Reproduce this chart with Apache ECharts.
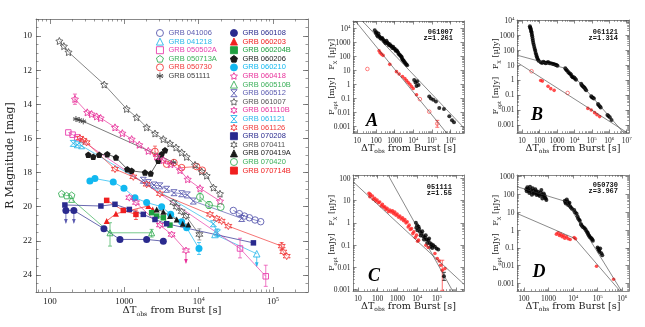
<!DOCTYPE html>
<html>
<head>
<meta charset="utf-8">
<script src="https://cdn.jsdelivr.net/npm/echarts@6.0.0/dist/echarts.min.js"></script>
<style>
html,body{margin:0;padding:0;background:#ffffff;}
#chart{width:645px;height:327px;}
</style>
</head>
<body>
<div id="chart"></div>
<script>
// ================= DATA: main panel  [time since burst (s), R magnitude] =================
const GRB041006  = [[29300,20.22],[35300,20.41],[41300,20.55],[48200,20.65],[57400,20.78],[68400,20.88]];
const GRB041218  = [[16600,21.63],[60500,22.76]];
const GRB050502A = [[177,15.65],[202,15.78],[233,15.94],[36060,22.45],[80000,24.08]];
const GRB050713A = [[144,19.24],[168,19.35],[196,19.33]];
const GRB050730  = [[2590,16.76],[3715,17.51],[4667,17.41],[5915,17.71],[9420,17.65],[11220,17.86]];
const GRB051111  = [[224,14.86],[248,14.92],[281,15.0],[3020,17.02],[4570,17.41]];
const GRB060108  = [[164,20.22],[210,20.22],[533,21.29],[875,21.92],[2000,21.92],[3352,22.02]];
const GRB060203  = [[580,20.84],[773,20.41],[2105,19.96],[2410,20.16]];
const GRB060204B = [[2335,20.35],[2728,20.55],[3352,20.65],[4120,21.08]];
const GRB060206  = [[328,16.96],[383,17.08],[461,16.96],[591,16.92],[773,17.12],[1099,17.80],[1257,17.90],[1901,18.00],[2265,18.06],[2871,17.31],[3184,16.92],[3532,16.69]];
const GRB060210  = [[345,18.49],[403,18.35],[711,18.55],[991,18.92],[1393,19.47],[2000,19.76],[3184,20.00],[4210,20.45],[5915,20.88],[6900,21.24],[10120,22.45]];
const GRB060418  = [[217,13.69],[318,14.47],[364,14.57],[425,14.71],[481,14.80],[750,15.35],[942,15.69],[1257,16.04],[1593,16.37],[2105,16.73],[2728,17.06],[3352,17.27],[4210,17.51],[5623,17.86],[7130,18.39],[10450,18.92],[19400,19.67]];
const GRB060510B = [[196,19.57],[643,21.53],[2335,21.53]];
const GRB060512  = [[1803,18.45],[2105,18.59],[2512,18.73],[3020,18.78],[3715,18.98],[4667,19.18],[5915,19.24],[7050,19.31],[8490,19.67],[38000,20.69]];
const GRB061007  = [[134,10.29],[154,10.59],[178,10.94],[538,12.84],[1076,14.27],[1466,14.76],[2000,15.35],[2590,15.71],[3350,16.04],[4120,16.29],[4970,16.53],[5920,16.82],[6900,17.08],[8950,17.55],[11000,17.94],[12850,18.18],[15800,18.88],[19400,19.24]];
const GRB061110B = [[1170,19.47],[1436,19.76],[3020,21.08],[4335,21.63],[6760,22.57]];
const GRB061121  = [[206,16.29],[233,16.37],[267,16.43],[15800,21.0],[17900,21.53]];
const GRB061126  = [[254,15.98],[281,16.10],[311,16.24],[750,17.80],[1324,18.25],[2000,18.69],[3020,19.24],[14220,20.45],[17500,20.69],[20400,20.84],[25100,21.14],[131000,22.31],[138000,22.65],[153000,22.9]];
const GRB070208  = [[159,19.90],[485,19.96],[750,19.86],[1170,20.16],[1803,20.45],[2590,20.75],[3715,21.0],[54600,22.12]];
const GRB070411  = [[4570,19.76],[5070,20.02],[5915,20.29],[6760,20.55],[10230,21.63]];
const GRB070419A = [[2728,20.16],[3352,20.29],[4120,20.55],[5070,20.75],[6110,21.0],[7280,21.04]];
const GRB070420  = [[10450,19.43],[13800,19.90],[19800,20.02]];
const GRB070714B = [[580,19.63],[970,20.22],[1436,20.45]];

// error bars [t, mag_low, mag_high] and upper limits [t, mag]
const ERR060418  = [[217,13.4,14.0]];
const ERR050730  = [[2590,16.45,17.05]];
const ERR070420  = [[10450,19.2,19.7],[13800,19.7,20.1]];
const ERR060510B = [[643,20.94,22.31],[2335,21.33,21.78]];
const ERR060210  = [[10120,22.1,22.8]];
const ERR050502A = [[36060,21.85,23.0],[80000,23.43,24.67]];
const ERR070411  = [[10230,21.3,21.95]];
const ERR070714B = [[1436,20.2,20.75]];
const ERR061126  = [[131000,22.1,22.5]];
const ERR061121  = [[17900,21.3,21.75]];
const UL060108   = [[164,20.22],[210,20.22]];
const UL061110B  = [[6760,22.57]];
const UL041218   = [[60500,22.76]];

// ================= DATA: panel A (061007)  [t (s), flux] =================
const A_XRAY = [[85.5,7620],[96.8,4930],[105,5500],[114,3370],[125,2700],[134.5,4420],[145,3000],[158,2560],[175,2000],[195,1955],[215,2100],[240,1660],[265,1300],[295,1133],[325,900],[362,1334],[400,1000],[446,863],[495,650],[547,774],[600,600],[673,559],[740,420],[828,501],[910,380],[1016,361],[1130,260],[1250,290],[1380,240],[1535,188],[1700,150],[1888,128],[2100,110],[2322,97.7],[2450,80],[2625,63],[2850,55],[3100,48],[3400,40],[3810,33],[4200,27],[4680,23.8],[11140,2.17],[13130,1.40],[14860,0.81],[16140,1.74],[19050,0.957],[71300,0.143],[87700,0.103],[117000,0.0826],[162600,0.063],[246000,0.0212],[438000,0.018],[848000,0.00543],[1180000,0.00282],[1510000,0.00204]];
const A_OPT = [[146,261],[166,188],[195,151],[240,122],[547,28],[1250,8.45],[1738,5.77],[2625,3.73],[3510,2.69],[4310,1.94],[5300,1.40],[6510,1.07],[8000,0.73],[9840,0.526],[14860,0.187]];
const A_OPT_OPEN = [[34.5,13.1],[22440,0.0923],[71300,0.01164],[192000,0.00164]];
const A_OPT_ERR = [[192000,0.0009,0.0028]];
const A_FIT_X = [[18.6,35000],[5200000,0.00081]];
const A_FIT_OPT = [[7.8,35000],[610000,0.00035]];

// ================= DATA: panel B (061121) =================
const B_XRAY = [[27.9,4020],[29,3300],[30.5,2810],[32,2300],[33.3,1875],[35,1500],[36.4,1130],[38,850],[39.8,615],[41.5,450],[43.5,318],[46.5,230],[49.7,164],[53,120],[56.8,89.5],[60,65],[64.9,48.7],[69,38],[74.2,29.3],[81,24],[88.6,19.5],[116,15.2],[140,14],[165,16.8],[195,15],[226,13],[265,14.5],[308,16],[370,13.5],[441,13],[530,12.5],[629,11.8],[740,11],[859,10.6],[960,9.6],[1074,9.1],[2990,6.08],[3300,5],[3740,4.26],[4400,3.5],[5110,2.84],[5700,2.6],[6380,2.32],[7100,1.8],[7970,1.55],[8900,1.5],[9950,1.40],[11000,1.2],[12430,1.03],[24270,0.561],[27000,0.45],[30330,0.374],[34000,0.34],[37860,0.305],[42000,0.25],[47300,0.203],[92300,0.0816],[100000,0.07],[115000,0.065],[131800,0.0573],[225000,0.0242],[250000,0.02],[290000,0.017],[321000,0.0146],[783000,0.00453],[900000,0.0038],[1070000,0.00318],[1340000,0.00212]];
const B_OPT = [[116,0.931],[145,0.84],[308,0.374],[441,0.262],[689,0.203],[59200,0.0125],[92300,0.0097],[144000,0.00647],[197000,0.00477],[281000,0.00351]];
const B_OPT_OPEN = [[34.8,3.86],[4080,0.1355]];
const B_FIT_X = [[5.13,46.2],[4080,5.5],[6350000,0.00031]];
const B_FIT_OPT = [[5.13,15.2],[9900000,0.00031]];

// ================= DATA: panel C (051111) =================
const C_XRAY = [[8550,1.0],[9000,0.6],[10000,0.79],[10400,0.471],[11700,0.665],[12500,0.55],[13700,0.396],[15000,0.27],[16600,0.333],[18000,0.42],[20200,0.252],[22000,0.18],[24500,0.22],[27000,0.28],[29800,0.179],[33000,0.12],[36300,0.167],[40000,0.2],[44100,0.126],[48000,0.085],[53600,0.11],[58000,0.075],[65100,0.0993],[79100,0.0835],[96200,0.0703],[117000,0.0634],[227000,0.00399]];
const C_XRAY_ERR = [[227000,0.0026,0.006]];
const C_OPT = [[36.2,21.1],[40,15],[42.4,19],[53.5,16],[60,11.5],[70.4,12.6],[80,9.5],[92.5,10.6],[110,8],[126,8.59],[150,5.8],[173,6.74],[200,5.0],[227,5.3],[260,4.0],[298,4.46],[350,3.2],[408,3.75],[480,3.1],[557,3.5],[640,2.6],[731,3.04],[850,2.2],[961,2.47],[1150,1.8],[1314,2.01],[1550,1.5],[1796,1.69],[2050,1.25],[2360,1.42],[2700,1.0],[3100,1.12],[3500,0.65],[3920,0.79],[4500,0.5],[5150,0.56],[6000,0.33],[6770,0.396],[8000,0.22],[9250,0.28],[10500,0.15],[11700,0.167],[27600,0.0993],[36300,0.078],[79100,0.0419],[104000,0.0249],[131000,0.0195],[154000,0.0125],[187000,0.00743],[255000,0.00883]];
const C_OPT_ERR = [[187000,0.00093,0.021]];
const C_FIT_X = [[335,141],[627000,0.00087]];
const C_FIT_OPT = [[5.57,70.8],[2360000,0.00174]];

// ================= DATA: panel D (050730) =================
const D_XRAY = [[124,194],[130,150],[137,251],[145,200],[155,163],[165,120],[176,274],[185,180],[199,143],[210,95],[226,220],[240,160],[256,115],[270,130],[290,194],[310,150],[329,93],[350,110],[373,143],[400,95],[436,81.7],[470,130],[509,178],[540,100],[560,60],[600,85],[635,115],[680,90],[720,68.7],[760,60],[816,48.7],[4570,44.6],[4800,38],[5020,31.6],[5510,53],[5900,40],[6250,25.4],[6600,30],[7080,34.4],[7500,22],[8030,18.8],[9000,16],[11000,13.3],[12000,10],[13700,8.6],[15000,6],[16000,4.52],[17500,3.8],[18700,3.34],[20600,2.17],[22000,1.9],[24000,1.53],[27000,1.4],[29900,1.24],[33000,1.0],[36100,0.80],[39000,0.7],[41000,0.593],[44000,0.5],[46400,0.42],[51000,0.38],[56000,0.338],[60000,0.3],[63500,0.25],[98500,0.105],[105000,0.09],[112000,0.0745],[118000,0.06],[126000,0.0925],[140000,0.05],[153000,0.039]];
const D_OPT = [[2090,0.593],[2440,0.705],[2770,0.499],[3140,0.593],[3560,0.42],[4030,0.5],[4570,0.353],[5350,0.42],[6250,0.324],[7550,0.297],[11000,0.385],[12450,0.324],[89500,0.00938],[443000,0.00174]];
const D_FIT_X = [[51.8,274],[5350,39.2],[883000,0.000418]];
const D_FIT_OPT = [[51.8,8.63],[11700,0.338],[804000,0.000383]];

// ================= TICK LABELS =================
const LOG_TICK_VALUES = [0.001,0.01,0.1,1,10,100,1000,1e4,1e5,1e6,1e7];
const LOG_TICK_LABELS = ['0.001','0.01','0.1','1','10','100','1000','10^4','10^5','10^6','10^7'];
const MAG_TICK_VALUES = [10,12,14,16,18,20,22,24];
const MAG_TICK_LABELS = ['10','12','14','16','18','20','22','24'];
const MAIN_X_LABELS = [100,1000,1e4,1e5];
const A_X_LABELS = [10,100,1000,1e4,1e5,1e6];
const B_X_LABELS = [10,100,1000,1e4,1e5,1e6,1e7];
const C_X_LABELS = [10,100,1000,1e4,1e5];
const D_X_LABELS = [100,1000,1e4,1e5,1e6];
const A_Y_LABELS = [0.001,0.01,0.1,1,10,100,1000,1e4];
const B_Y_LABELS = [0.001,0.01,0.1,1,10,100,1000,1e4];
const C_Y_LABELS = [0.001,0.01,0.1,1,10,100];
const D_Y_LABELS = [0.001,0.01,0.1,1,10,100,1000];
const PANEL_IDS = ['061007','061121','051111','050730'];
const PANEL_Z = ['z=1.261','z=1.314','z=1.55','z=3.967'];
const PANEL_LETTERS = ['A','B','C','D'];

// ================= STYLE / LAYOUT =================
const BOX = '#6a6a6a', TICK = '#555', TXT = '#222';
const SERIF = 'Liberation Serif', TITLEF = 'DejaVu Serif';
const STAR  = 'path://M0,-10L2.94,-4.05L9.51,-3.09L4.76,1.55L5.88,8.09L0,5L-5.88,8.09L-4.76,1.55L-9.51,-3.09L-2.94,-4.05Z';
const STAR6 = 'path://M0,-10L2.5,-4.33L8.66,-5L5,0L8.66,5L2.5,4.33L0,10L-2.5,4.33L-8.66,5L-5,0L-8.66,-5L-2.5,-4.33Z';
const PENT  = 'path://M0,-10L9.51,-3.09L5.88,8.09L-5.88,8.09L-9.51,-3.09Z';
const HOUR  = 'path://M-8,-9L8,-9L-8,9L8,9Z';
const ASTER = 'path://M0,-10L0,10M-8.66,-5L8.66,5M-8.66,5L8.66,-5M-10,0L10,0';

const MAIN = [
 {name:'GRB 041006', data:GRB041006, sym:'circle', c:'#5b5bb0', open:true, size:6.5},
 {name:'GRB 041218', data:GRB041218, sym:'triangle', c:'#2ab7ea', open:true, size:6.5},
 {name:'GRB 050502A',data:GRB050502A,sym:'rect', c:'#e83fae', open:true, size:5.5},
 {name:'GRB 050713A',data:GRB050713A,sym:PENT, c:'#3cb05a', open:true, size:6.5},
 {name:'GRB 050730', data:GRB050730, sym:'circle', c:'#f03a3a', open:true, size:6.5},
 {name:'GRB 051111', data:GRB051111, sym:ASTER, c:'#444444', open:true, size:6},
 {name:'GRB 060108', data:GRB060108, sym:'circle', c:'#2a2a8e', open:false, size:7},
 {name:'GRB 060203', data:GRB060203, sym:'triangle', c:'#f02020', open:false, size:6},
 {name:'GRB 060204B',data:GRB060204B,sym:'rect', c:'#1fa040', open:false, size:5.5},
 {name:'GRB 060206', data:GRB060206, sym:PENT, c:'#1a1a1a', open:false, size:6.5},
 {name:'GRB 060210', data:GRB060210, sym:'circle', c:'#12b8f0', open:false, size:7},
 {name:'GRB 060418', data:GRB060418, sym:STAR, c:'#e8309a', open:true, size:7},
 {name:'GRB 060510B',data:GRB060510B,sym:'triangle', c:'#3cb05a', open:true, size:6},
 {name:'GRB 060512', data:GRB060512, sym:HOUR, c:'#5b5bb0', open:true, size:6},
 {name:'GRB 061007', data:GRB061007, sym:STAR, c:'#555555', open:true, size:7},
 {name:'GRB 061110B',data:GRB061110B,sym:STAR6, c:'#e8309a', open:true, size:7},
 {name:'GRB 061121', data:GRB061121, sym:HOUR, c:'#2ab7ea', open:true, size:6},
 {name:'GRB 061126', data:GRB061126, sym:STAR6, c:'#f03a3a', open:true, size:7},
 {name:'GRB 070208', data:GRB070208, sym:'rect', c:'#2a2a8e', open:false, size:5.5},
 {name:'GRB 070411', data:GRB070411, sym:STAR6, c:'#555555', open:true, size:7},
 {name:'GRB 070419A',data:GRB070419A,sym:'triangle', c:'#1a1a1a', open:false, size:6},
 {name:'GRB 070420', data:GRB070420, sym:'circle', c:'#3cb05a', open:true, size:7},
 {name:'GRB 070714B',data:GRB070714B,sym:'rect', c:'#f02020', open:false, size:5.5}
];
const ERRS = [[ERR060418,'#e8309a'],[ERR050730,'#f03a3a'],[ERR070420,'#3cb05a'],[ERR060510B,'#3cb05a'],[ERR060210,'#12b8f0'],[ERR050502A,'#e83fae'],[ERR070411,'#777777'],[ERR070714B,'#f02020'],[ERR061126,'#f03a3a'],[ERR061121,'#2ab7ea']];
const ULS = [[UL060108,'#5b5bb0'],[UL061110B,'#e8309a'],[UL041218,'#2ab7ea']];

const PANELS = [
 {grid:{left:36,top:19,width:272,height:273}, x:{type:'log',min:65,max:2.96e5,labels:MAIN_X_LABELS}, y:{type:'value',min:9,max:25,inverse:true,labels:MAG_TICK_VALUES}, main:true},
 {grid:{left:353,top:21,width:111,height:112}, x:{type:'log',min:5.85,max:5.2e6,labels:A_X_LABELS}, y:{type:'log',min:3.5e-4,max:3.5e4,labels:A_Y_LABELS}},
 {grid:{left:517,top:20,width:112,height:113}, x:{type:'log',min:5.1,max:1.35e7,labels:B_X_LABELS}, y:{type:'log',min:2.8e-4,max:1.05e4,labels:B_Y_LABELS}},
 {grid:{left:353,top:175,width:111,height:116}, x:{type:'log',min:5.57,max:2.36e6,labels:C_X_LABELS}, y:{type:'log',min:8.7e-4,max:141,labels:C_Y_LABELS}},
 {grid:{left:517,top:175,width:112,height:116}, x:{type:'log',min:52,max:1.87e6,labels:D_X_LABELS}, y:{type:'log',min:3.8e-4,max:1240,labels:D_Y_LABELS}}
];

function logMajors(min,max){const o=[];for(let e=-5;e<=8;e++){const v=Math.pow(10,e);if(v>=min&&v<=max)o.push(v);}return o;}
function logMinors(min,max){const o=[];for(let e=-5;e<=8;e++){for(let k=2;k<=9;k++){const v=k*Math.pow(10,e);if(v>min&&v<max)o.push(v);}}return o;}
function linSteps(min,max,st){const o=[];for(let v=Math.ceil(min/st)*st;v<=max+1e-9;v+=st)o.push(+v.toFixed(4));return o;}

function logFmt(v){
  const e=Math.round(Math.log10(v));
  const i=LOG_TICK_VALUES.findIndex(t=>Math.abs(Math.log10(t)-e)<1e-6);
  const s=LOG_TICK_LABELS[i];
  if(s.indexOf('^')>0){const p=s.split('^');return '{n|'+p[0]+'}{p|'+p[1]+'}';}
  return '{n|'+s+'}';
}
function magFmt(v){const i=MAG_TICK_VALUES.indexOf(Math.round(v));return i>=0?MAG_TICK_LABELS[i]:'';}

const xAxes=[], yAxes=[];
function nameRich(fs){return {n:{fontFamily:TITLEF,fontSize:fs,color:TXT,verticalAlign:'top',lineHeight:fs+1},s:{fontFamily:TITLEF,fontSize:fs*0.62,color:TXT,verticalAlign:'bottom',lineHeight:fs+1.6}};}
function addAxes(list, gi, dim, ax, P){
  const main=!!P.main;
  const pos = dim==='x'?['bottom','top']:['left','right'];
  const base = {gridIndex:gi, type:ax.type, min:ax.min, max:ax.max, inverse:!!ax.inverse, splitLine:{show:false}, splitArea:{show:false}, axisPointer:{show:false}, silent:true, minorTick:{show:false}};
  const majors = ax.type==='log'?logMajors(ax.min,ax.max):linSteps(ax.min,ax.max,2);
  const minors = ax.type==='log'?logMinors(ax.min,ax.max):linSteps(ax.min,ax.max,0.5);
  const majLen = main?5:3.5, minLen = main?2.5:1.8;
  const fs = main?9:7.5;
  const lab = {show:true, customValues:ax.labels, color:TXT, fontFamily:SERIF, fontSize:fs,
     margin: dim==='x'?(main?4:3):(main?4:2.5),
     formatter: ax.type==='log'?logFmt:magFmt,
     rich:{n:{fontFamily:SERIF,fontSize:fs,color:TXT,verticalAlign:'bottom',lineHeight:fs+1.5},p:{fontFamily:SERIF,fontSize:fs*0.66,color:TXT,verticalAlign:'top',lineHeight:fs+1.5}}};
  let name='', nameGap=0, nts={};
  if(dim==='x'){
    const tf = main?10:9.6;
    name='{n|ΔT}{s|obs}{n| from Burst [s]}'; nameGap = main?13.5:10;
    nts={fontFamily:TITLEF,fontSize:tf,color:TXT,rich:nameRich(tf)};
  } else if(main){
    name='R Magnitude [mag]'; nameGap=20; nts={fontFamily:TITLEF,fontSize:10.8,color:TXT};
  } else {
    name='{n|F}{s|opt}{n| [mJy]   F}{s|X}{n| [μJy]}'; nameGap=15;
    nts={fontFamily:TITLEF,fontSize:8,color:TXT,rich:nameRich(8)};
  }
  const idx=list.length;
  list.push(Object.assign({},base,{position:pos[0], axisLine:{show:true,onZero:false,lineStyle:{color:BOX,width:0.8}},
    axisTick:{show:true,inside:true,length:majLen,customValues:majors,lineStyle:{color:TICK,width:0.7}},
    axisLabel:lab, name:name, nameLocation:'middle', nameGap:nameGap, nameMoveOverlap:false, nameRotate:dim==='y'?90:0, nameTextStyle:nts}));
  list.push(Object.assign({},base,{position:pos[0], axisLine:{show:false,onZero:false},
    axisTick:{show:true,inside:true,length:minLen,customValues:minors,lineStyle:{color:TICK,width:0.6}}, axisLabel:{show:false}}));
  list.push(Object.assign({},base,{position:pos[1], axisLine:{show:true,onZero:false,lineStyle:{color:BOX,width:0.8}},
    axisTick:{show:true,inside:true,length:majLen,customValues:majors,lineStyle:{color:TICK,width:0.7}}, axisLabel:{show:false}}));
  list.push(Object.assign({},base,{position:pos[1], axisLine:{show:false,onZero:false},
    axisTick:{show:true,inside:true,length:minLen,customValues:minors,lineStyle:{color:TICK,width:0.6}}, axisLabel:{show:false}}));
  return idx;
}
const AX = PANELS.map((P,gi)=>({x:addAxes(xAxes,gi,'x',P.x,P), y:addAxes(yAxes,gi,'y',P.y,P)}));

const series=[];
// main panel curves
MAIN.forEach(m=>{
  series.push({type:'line', name:m.name, xAxisIndex:AX[0].x, yAxisIndex:AX[0].y, data:m.data,
    symbol:m.sym, symbolSize:m.size, showSymbol:true, showAllSymbol:true, clip:true,
    lineStyle:{color:m.c,width:0.7},
    itemStyle:{color:m.open?'rgba(255,255,255,0)':m.c, borderColor:m.c, borderWidth:m.open?0.9:0},
    emphasis:{disabled:true}, animation:false, z:3});
});
function errSeries(data,color,xi,yi){
  return {type:'custom', xAxisIndex:xi, yAxisIndex:yi, data:data, silent:true, animation:false, z:2, encode:{x:0,y:[1,2]},
    renderItem:function(p,api){
      const a=api.coord([api.value(0),api.value(1)]), b=api.coord([api.value(0),api.value(2)]);
      const st={stroke:color,lineWidth:0.7};
      return {type:'group',children:[
        {type:'line',shape:{x1:a[0],y1:a[1],x2:b[0],y2:b[1]},style:st},
        {type:'line',shape:{x1:a[0]-2,y1:a[1],x2:a[0]+2,y2:a[1]},style:st},
        {type:'line',shape:{x1:b[0]-2,y1:b[1],x2:b[0]+2,y2:b[1]},style:st}]};
    }};
}
ERRS.forEach(e=>series.push(errSeries(e[0],e[1],AX[0].x,AX[0].y)));
ULS.forEach(u=>series.push({type:'custom', xAxisIndex:AX[0].x, yAxisIndex:AX[0].y, data:u[0], silent:true, animation:false, z:2,
  renderItem:function(p,api){
    const c=api.coord([api.value(0),api.value(1)]);const x=c[0],y=c[1];
    return {type:'group',children:[
      {type:'line',shape:{x1:x,y1:y+3,x2:x,y2:y+12},style:{stroke:u[1],lineWidth:0.8}},
      {type:'polygon',shape:{points:[[x-1.8,y+8.5],[x+1.8,y+8.5],[x,y+13.5]]},style:{fill:u[1]}}]};
  }}));

// small panels
const SMALL = [
 {x:A_XRAY, o:A_OPT, oo:A_OPT_OPEN, fx:A_FIT_X, fo:A_FIT_OPT, eo:A_OPT_ERR, ex:null},
 {x:B_XRAY, o:B_OPT, oo:B_OPT_OPEN, fx:B_FIT_X, fo:B_FIT_OPT, eo:null, ex:null},
 {x:C_XRAY, o:C_OPT, oo:null, fx:C_FIT_X, fo:C_FIT_OPT, eo:C_OPT_ERR, ex:C_XRAY_ERR},
 {x:D_XRAY, o:D_OPT, oo:null, fx:D_FIT_X, fo:D_FIT_OPT, eo:null, ex:null}
];
SMALL.forEach((s,i)=>{
  const xi=AX[i+1].x, yi=AX[i+1].y;
  const lineCommon={type:'line', xAxisIndex:xi, yAxisIndex:yi, symbol:'none', showSymbol:false, silent:true, animation:false, clip:true, z:4, lineStyle:{color:'#3a3a3a',width:0.6}};
  series.push(Object.assign({},lineCommon,{data:s.fx}));
  series.push(Object.assign({},lineCommon,{data:s.fo}));
  if(s.ex) series.push(errSeries(s.ex,'#000',xi,yi));
  if(s.eo) series.push(errSeries(s.eo,'#ff3030',xi,yi));
  series.push({type:'scatter', xAxisIndex:xi, yAxisIndex:yi, data:s.x, symbol:'circle', symbolSize:4, itemStyle:{color:'#000'}, silent:true, animation:false, z:3});
  series.push({type:'scatter', xAxisIndex:xi, yAxisIndex:yi, data:s.o, symbol:'circle', symbolSize:3.6, itemStyle:{color:'#ff2020'}, silent:true, animation:false, z:3});
  if(s.oo) series.push({type:'scatter', xAxisIndex:xi, yAxisIndex:yi, data:s.oo, symbol:'circle', symbolSize:3.6, itemStyle:{color:'rgba(255,255,255,0)',borderColor:'#ff5050',borderWidth:0.9}, silent:true, animation:false, z:3});
});

// legends
function legData(list){return list.map(m=>({name:m.name, icon:m.sym, textStyle:{color:m.c}}));}
const legCommon={orient:'vertical', itemWidth:7, itemHeight:7, itemGap:0.6, padding:0, selectedMode:false,
  textStyle:{fontFamily:'Liberation Sans',fontSize:7.5}, itemStyle:{borderWidth:0.9}, inactiveColor:'#ccc'};
const legends=[Object.assign({},legCommon,{left:156,top:29,data:legData(MAIN.slice(0,6))}),
               Object.assign({},legCommon,{left:230,top:29,data:legData(MAIN.slice(6))})];

// annotations
const ANNOT_POS=[[453,32,372,121],[618,32,537,115],[452,187,374,276],[618,185,539,272]];
const graphic=[];
ANNOT_POS.forEach((p,i)=>{
  graphic.push({type:'text', x:p[0], y:p[1], silent:true, style:{text:PANEL_IDS[i], fill:'#111', font:'bold 7px "Liberation Mono"', textAlign:'right', textVerticalAlign:'middle', align:'right', verticalAlign:'middle'}});
  graphic.push({type:'text', x:p[0], y:p[1]+5.8, silent:true, style:{text:PANEL_Z[i], fill:'#111', font:'bold 7px "Liberation Mono"', textAlign:'right', textVerticalAlign:'middle', align:'right', verticalAlign:'middle'}});
  graphic.push({type:'text', x:p[2], y:p[3], silent:true, style:{text:PANEL_LETTERS[i], fill:'#000', font:'italic bold 18px "Liberation Serif"', textAlign:'center', textVerticalAlign:'middle', align:'center', verticalAlign:'middle'}});
});

const chart = echarts.init(document.getElementById('chart'), null, {renderer:'canvas', width:645, height:327});
chart.setOption({
  animation:false,
  backgroundColor:'#ffffff',
  grid: PANELS.map(P=>Object.assign({containLabel:false, outerBoundsMode:'none', show:false}, P.grid)),
  xAxis:xAxes, yAxis:yAxes,
  legend:legends,
  series:series,
  graphic:graphic
});
</script>
</body>
</html>
